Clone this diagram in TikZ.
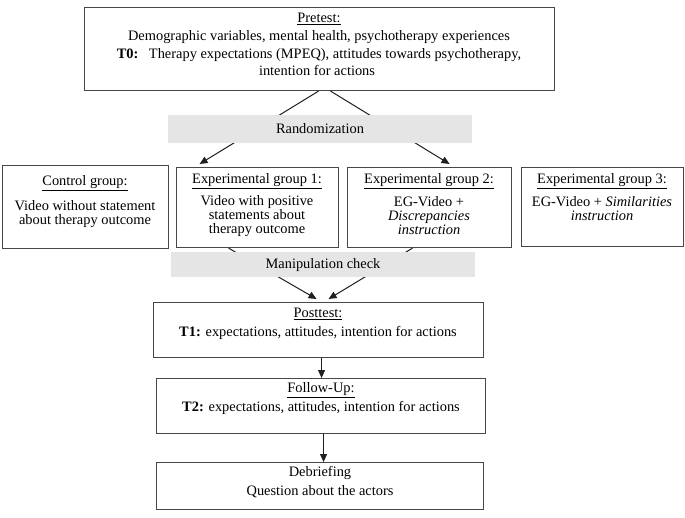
\documentclass[tikz,border=0pt]{standalone}
\usepackage{fontspec}
\setmainfont{Liberation Serif}[ItalicFont={Liberation Serif Italic},BoldFont={Liberation Serif Bold}]
\usetikzlibrary{arrows.meta,calc,backgrounds}
\begin{document}
\begin{tikzpicture}[x=1pt,y=-1pt,
  box/.style={draw=black!72, line width=1.1pt, inner sep=0pt, anchor=north west},
  band/.style={fill=black!10, inner sep=0pt, anchor=north west},
  txt/.style={inner sep=0pt, font=\fontsize{14.4}{14}\selectfont, align=center},
  link/.style={draw=black!88, line width=1pt},
  arr/.style={link, -{Triangle[length=8pt,width=7pt]}},
]
\useasboundingbox (0,0) rectangle (685,517);

% boxes
\node[box, minimum width=470pt, minimum height=83pt] (pre) at (84,7) {};
\node[band, minimum width=304pt, minimum height=28pt] (rand) at (168,115) {};
\node[box, minimum width=166pt, minimum height=83pt] (ctrl) at (2,165) {};
\node[box, minimum width=162pt, minimum height=80pt] (eg1) at (176,167) {};
\node[box, minimum width=164pt, minimum height=80pt] (eg2) at (347,167) {};
\node[box, minimum width=162pt, minimum height=79pt] (eg3) at (521,167) {};
\node[band, minimum width=304pt, minimum height=25pt] (manip) at (171,252) {};
\node[box, minimum width=330pt, minimum height=55pt] (post) at (153,302) {};
\node[box, minimum width=329pt, minimum height=55pt] (fol) at (156,378) {};
\node[box, minimum width=327pt, minimum height=47pt] (deb) at (156,462) {};

% texts
\node[txt] (preT) at (319,19) {\underline{Pretest:}};
\node[txt] (preA) at (319,37) {Demographic variables, mental health, psychotherapy experiences};
\node[txt] (preB) at (319,55) {\textbf{T0:}\hspace{0.4em} Therapy expectations (MPEQ), attitudes towards psychotherapy,};
\node[txt] (preC) at (317,70) {intention for actions};
\node[txt] (randT) at (320,129) {Randomization};

\node[txt] (ctrlT) at (85,183) {\underline{Control group:}};
\node[txt] (ctrlB) at (85,214) {Video without statement\\about therapy outcome};
\node[txt] (eg1T) at (257,181) {\underline{Experimental group 1:}};
\node[txt] (eg1B) at (257,216) {Video with positive\\statements about\\therapy outcome};
\node[txt] (eg2T) at (429,181) {\underline{Experimental group 2:}};
\node[txt] (eg2B) at (429,216) {EG-Video +\\\textit{Discrepancies}\\\textit{instruction}};
\node[txt] (eg3T) at (602,181) {\underline{Experimental group 3:}};
\node[txt] (eg3B) at (602,209) {EG-Video + \textit{Similarities}\\\textit{instruction}};

\node[txt] (manipT) at (323,265) {Manipulation check};

\node[txt] (postT) at (318,314) {\underline{Posttest:}};
\node[txt] (postB) at (318,333) {\textbf{T1:} expectations, attitudes, intention for actions};
\node[txt] (folT) at (321,390) {\underline{Follow-Up:}};
\node[txt] (folB) at (321,408) {\textbf{T2:} expectations, attitudes, intention for actions};
\node[txt] (debT) at (320,473) {Debriefing};
\node[txt] (debB) at (320,492) {Question about the actors};

% connectors (behind the grey bands)
\begin{scope}[on background layer]
\draw[arr] ($(pre.south)+(-1,0)$) -- ($(eg1.north)+(-58,-3)$);
\draw[arr] ($(pre.south)+(11,0)$) -- ($(eg2.north)+(20,-3)$);
\draw[arr] ($(eg1.south)+(-29,0)$) -- ($(post.north)+(-2,-3)$);
\draw[arr] ($(eg2.south)+(-17,0)$) -- ($(post.north)+(10,-3)$);
\draw[arr] ([xshift=3pt]post.south) -- ([xshift=3pt]post.south |- fol.north);
\draw[arr] ([xshift=2.5pt]fol.south) -- ([xshift=2.5pt]fol.south |- deb.north);
\end{scope}
\end{tikzpicture}
\end{document}
